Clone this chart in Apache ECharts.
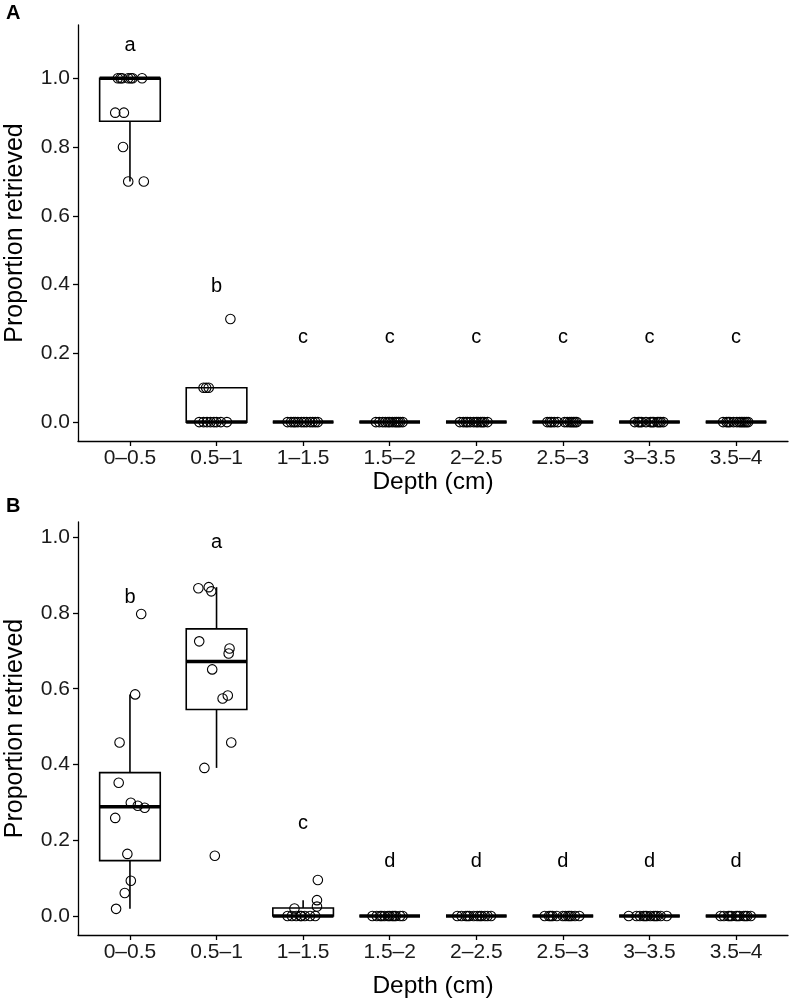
<!DOCTYPE html>
<html>
<head>
<meta charset="utf-8">
<script src="https://cdn.jsdelivr.net/npm/echarts@6/dist/echarts.min.js"></script>
<style>
  html, body { margin: 0; padding: 0; background: #fff; }
  #chart { width: 792px; height: 1003px; }
</style>
</head>
<body>
<div id="chart"></div>
<script>
// depth bins (x categories) and y tick values
var depthBins = ['0–0.5', '0.5–1', '1–1.5', '1.5–2', '2–2.5', '2.5–3', '3–3.5', '3.5–4'];
var yTicks = [0, 0.2, 0.4, 0.6, 0.8, 1.0];

// panel A: proportion retrieved per replicate, one list per depth bin
var retrievedA = [
    [1, 1, 1, 1, 1, 1, 1, 0.9, 0.9, 0.8, 0.7, 0.7],
    [0, 0, 0, 0, 0, 0, 0, 0, 0.1, 0.1, 0.1, 0.3],
    [0, 0, 0, 0, 0, 0, 0, 0, 0, 0, 0, 0],
    [0, 0, 0, 0, 0, 0, 0, 0, 0, 0, 0, 0],
    [0, 0, 0, 0, 0, 0, 0, 0, 0, 0, 0, 0],
    [0, 0, 0, 0, 0, 0, 0, 0, 0, 0, 0, 0],
    [0, 0, 0, 0, 0, 0, 0, 0, 0, 0, 0, 0],
    [0, 0, 0, 0, 0, 0, 0, 0, 0, 0, 0, 0]
];
// horizontal jitter of each point (category units)
var jitterA = [
    [-0.14, -0.11, -0.09, -0.02, 0.01, 0.03, 0.14, -0.17, -0.07, -0.08, -0.02, 0.16],
    [-0.2, -0.15, -0.11, -0.07, -0.03, 0.0, 0.05, 0.12, -0.15, -0.12, -0.09, 0.16],
    [-0.18, -0.14, -0.11, -0.06, -0.02, 0.01, 0.04, 0.08, 0.11, 0.14, 0.17, -0.09],
    [-0.16, -0.12, -0.08, -0.05, 0.0, 0.03, 0.06, 0.1, 0.15, 0.12, -0.02, 0.08],
    [-0.19, -0.15, -0.1, -0.07, -0.03, 0.02, 0.05, 0.09, 0.13, -0.12, 0.0, 0.07],
    [-0.18, -0.13, -0.1, -0.06, 0.02, 0.05, 0.08, 0.12, 0.16, -0.15, 0.1, 0.14],
    [-0.17, -0.13, -0.09, -0.04, 0.01, 0.05, 0.09, 0.13, 0.16, -0.11, 0.03, 0.11],
    [-0.15, -0.11, -0.07, -0.03, 0.01, 0.06, 0.1, 0.14, -0.09, 0.04, 0.12, 0.08]
];
var lettersA = ['a', 'b', 'c', 'c', 'c', 'c', 'c', 'c'];
var letterYA = [1.095, 0.395, 0.245, 0.245, 0.245, 0.245, 0.245, 0.245];

// panel B
var retrievedB = [
    [0.797, 0.585, 0.458, 0.352, 0.299, 0.291, 0.286, 0.259, 0.164, 0.093, 0.061, 0.019],
    [0.865, 0.868, 0.857, 0.725, 0.706, 0.693, 0.651, 0.582, 0.574, 0.458, 0.391, 0.159],
    [0.095, 0.042, 0.025, 0.02, 0, 0, 0, 0, 0, 0, 0, 0],
    [0, 0, 0, 0, 0, 0, 0, 0, 0, 0, 0, 0],
    [0, 0, 0, 0, 0, 0, 0, 0, 0, 0, 0, 0],
    [0, 0, 0, 0, 0, 0, 0, 0, 0, 0, 0, 0],
    [0, 0, 0, 0, 0, 0, 0, 0, 0, 0, 0, 0],
    [0, 0, 0, 0, 0, 0, 0, 0, 0, 0, 0, 0]
];
var jitterB = [
    [0.13, 0.06, -0.12, -0.13, 0.01, 0.09, 0.17, -0.17, -0.03, 0.01, -0.06, -0.16],
    [-0.21, -0.09, -0.06, -0.2, 0.15, 0.14, -0.05, 0.13, 0.07, 0.17, -0.14, -0.02],
    [0.17, 0.16, 0.16, -0.1, -0.18, -0.13, -0.08, -0.02, 0.02, 0.08, 0.14, -0.03],
    [-0.2, -0.15, -0.11, -0.06, -0.02, 0.03, 0.07, 0.12, -0.09, 0.0, 0.05, 0.15],
    [-0.22, -0.17, -0.12, -0.08, -0.03, 0.01, 0.06, 0.1, 0.17, -0.1, 0.04, 0.13],
    [-0.21, -0.16, -0.12, -0.07, 0.03, 0.06, 0.1, 0.14, 0.19, -0.14, 0.08, 0.0],
    [-0.24, -0.15, -0.11, -0.07, -0.03, 0.01, 0.05, 0.09, 0.13, 0.2, -0.05, 0.07],
    [-0.18, -0.14, -0.09, -0.05, 0.0, 0.04, 0.09, 0.13, 0.17, -0.07, 0.11, 0.02]
];
var lettersB = ['b', 'a', 'c', 'd', 'd', 'd', 'd', 'd'];
var letterYB = [0.84, 0.985, 0.245, 0.145, 0.145, 0.145, 0.145, 0.145];

var FONT = '"Liberation Sans", Arial, Helvetica, sans-serif';
var BOX_HALF = 0.35;

// type-7 quantiles + Tukey whiskers, like geom_boxplot
function boxStats(vals) {
    var s = vals.slice().sort(function(a, b){ return a - b; });
    var n = s.length;
    var q = function(p){
        var h = (n - 1) * p, lo = Math.floor(h);
        if (lo + 1 >= n) return s[n - 1];
        return s[lo] + (h - lo) * (s[lo + 1] - s[lo]);
    };
    var q1 = q(0.25), med = q(0.5), q3 = q(0.75), iqr = q3 - q1;
    var lo = s.filter(function(v){ return v >= q1 - 1.5 * iqr; })[0];
    var hiList = s.filter(function(v){ return v <= q3 + 1.5 * iqr; });
    return [lo, q1, med, q3, hiList[hiList.length - 1]];
}

function renderBox(params, api) {
    var x = api.value(0);
    var top = api.coord([x, api.value(5)]);
    var q3l = api.coord([x - BOX_HALF, api.value(4)]);
    var q3r = api.coord([x + BOX_HALF, api.value(4)]);
    var q1l = api.coord([x - BOX_HALF, api.value(2)]);
    var medl = api.coord([x - BOX_HALF, api.value(3)]);
    var medr = api.coord([x + BOX_HALF, api.value(3)]);
    var bot = api.coord([x, api.value(1)]);
    var mid = api.coord([x, api.value(4)]);
    var midLo = api.coord([x, api.value(2)]);
    var line = { stroke: '#000', lineWidth: 1.6 };
    return {
        type: 'group',
        children: [
            { type: 'line', shape: { x1: top[0], y1: top[1], x2: mid[0], y2: mid[1] }, style: line },
            { type: 'line', shape: { x1: midLo[0], y1: midLo[1], x2: bot[0], y2: bot[1] }, style: line },
            { type: 'rect', shape: { x: q3l[0], y: q3l[1], width: q3r[0] - q3l[0], height: q1l[1] - q3l[1] },
              style: { fill: '#fff', stroke: '#000', lineWidth: 1.6 } },
            { type: 'line', shape: { x1: medl[0], y1: medl[1], x2: medr[0], y2: medr[1] },
              style: { stroke: '#000', lineWidth: 3.5 } }
        ]
    };
}

function renderLetter(params, api) {
    var p = api.coord([api.value(0), api.value(1)]);
    return {
        type: 'text',
        x: p[0], y: p[1],
        style: { text: api.value(2), fill: '#000', font: '20px ' + FONT, align: 'center', verticalAlign: 'middle' }
    };
}

function panelSeries(idx, values, jitter, letters, letterY) {
    var boxes = values.map(function(v, i){ return [i + 1].concat(boxStats(v)); });
    var pts = [];
    values.forEach(function(v, i){
        v.forEach(function(y, j){ pts.push([i + 1 + jitter[i][j], y]); });
    });
    var lab = letters.map(function(l, i){ return [i + 1, letterY[i], l]; });
    return [
        { type: 'custom', xAxisIndex: idx, yAxisIndex: idx, renderItem: renderBox, data: boxes, z: 2 },
        { type: 'scatter', xAxisIndex: idx, yAxisIndex: idx, data: pts, symbol: 'circle', symbolSize: 9.5, z: 3,
          itemStyle: { color: 'rgba(0,0,0,0)', borderColor: '#000', borderWidth: 1.1, opacity: 1 } },
        { type: 'custom', xAxisIndex: idx, yAxisIndex: idx, renderItem: renderLetter, data: lab, z: 4 }
    ];
}

function xAxisCfg(idx, gap) {
    return {
        type: 'value', gridIndex: idx, min: 0.4, max: 8.6,
        name: 'Depth (cm)', nameLocation: 'middle', nameGap: gap,
        nameTextStyle: { fontFamily: FONT, fontSize: 24.5, color: '#000' },
        axisLine: { onZero: false, lineStyle: { color: '#000', width: 1.3 } },
        axisTick: { length: 5, lineStyle: { color: '#000', width: 1.3 }, customValues: [1, 2, 3, 4, 5, 6, 7, 8] },
        axisLabel: { customValues: [1, 2, 3, 4, 5, 6, 7, 8], margin: 7, fontFamily: FONT, fontSize: 21, color: '#1a1a1a',
            formatter: function(v){ return depthBins[Math.round(v) - 1]; } },
        splitLine: { show: false }
    };
}

function yAxisCfg(idx, min, max) {
    return {
        type: 'value', gridIndex: idx, min: min, max: max,
        name: 'Proportion retrieved', nameLocation: 'middle', nameGap: 50,
        nameTextStyle: { fontFamily: FONT, fontSize: 25, color: '#000' },
        axisLine: { show: true, onZero: false, lineStyle: { color: '#000', width: 1.3 } },
        axisTick: { show: true, length: 5, lineStyle: { color: '#000', width: 1.3 }, customValues: yTicks },
        axisLabel: { customValues: yTicks, margin: 8, fontFamily: FONT, fontSize: 21, color: '#1a1a1a',
            formatter: function(v){ return v.toFixed(1); } },
        splitLine: { show: false }
    };
}

var chart = echarts.init(document.getElementById('chart'));
chart.setOption({
    animation: false,
    backgroundColor: '#fff',
    graphic: [
        { type: 'text', left: 6, top: 3, style: { text: 'A', font: 'bold 20px ' + FONT, fill: '#000' } },
        { type: 'text', left: 6, top: 496, style: { text: 'B', font: 'bold 20px ' + FONT, fill: '#000' } }
    ],
    grid: [
        { left: 78, top: 25, width: 710, height: 416, outerBoundsMode: 'none', containLabel: false },
        { left: 78, top: 522, width: 710, height: 413, outerBoundsMode: 'none', containLabel: false }
    ],
    xAxis: [xAxisCfg(0, 29), xAxisCfg(1, 39)],
    yAxis: [yAxisCfg(0, -0.055, 1.155), yAxisCfg(1, -0.05, 1.04)],
    series: panelSeries(0, retrievedA, jitterA, lettersA, letterYA)
        .concat(panelSeries(1, retrievedB, jitterB, lettersB, letterYB))
});
</script>
</body>
</html>
